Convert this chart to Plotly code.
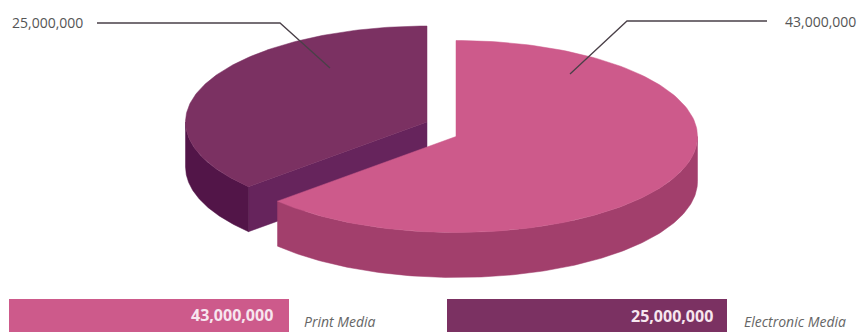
import numpy as np
import plotly.graph_objects as go

# Media spend split
categories = ["Print Media", "Electronic Media"]
values = [43000000, 25000000]
value_labels = ["43,000,000", "25,000,000"]

TOP_COLORS = ["#CD5A8B", "#7B3162"]
OUTER_COLORS = ["#A23F6C", "#521548"]
CUT_COLORS = [None, "#66245C"]

# Disc geometry in pixels: each slice has its own centre because the slices are pulled apart
CENTRES = [(456.0, 136.5), (427.0, 122.0)]
RX, RY, DEPTH = 241.5, 96.0, 45.0

share = values[0] / sum(values)
split = 2 * np.pi * share  # clockwise from twelve o'clock


def rim(cx, cy, start, end, n=160):
    t = np.linspace(start, end, n)
    return cx + RX * np.sin(t), cy - RY * np.cos(t)


def polygon(fig, xs, ys, color):
    fig.add_trace(go.Scatter(
        x=xs, y=ys, mode="lines", fill="toself", fillcolor=color,
        line=dict(color=color, width=0.5), hoverinfo="skip", showlegend=False,
    ))


def wall(fig, cx, cy, start, end, color):
    x, y = rim(cx, cy, start, end)
    xs = np.concatenate([x, x[::-1]])
    ys = np.concatenate([y, (y + DEPTH)[::-1]])
    polygon(fig, list(xs) + [xs[0]], list(ys) + [ys[0]], color)


fig = go.Figure()

# Electronic slice sits behind: cut face, outer wall, then top
cx, cy = CENTRES[1]
ex, ey = rim(cx, cy, split, split, 1)
polygon(fig,
        [cx, ex[0], ex[0], cx, cx],
        [cy, ey[0], ey[0] + DEPTH, cy + DEPTH, cy],
        CUT_COLORS[1])
wall(fig, cx, cy, split, 1.5 * np.pi, OUTER_COLORS[1])
x, y = rim(cx, cy, split, 2 * np.pi)
polygon(fig, [cx] + list(x) + [cx], [cy] + list(y) + [cy], TOP_COLORS[1])

# Print slice in front: only the lower rim of the wall is visible
cx, cy = CENTRES[0]
wall(fig, cx, cy, 0.5 * np.pi, split, OUTER_COLORS[0])
x, y = rim(cx, cy, 0, split)
polygon(fig, [cx] + list(x) + [cx], [cy] + list(y) + [cy], TOP_COLORS[0])

# Leader lines from the slices to their callouts
leaders = [
    ([767, 627, 570], [21, 21, 74]),
    ([97, 280, 330], [23, 23, 68]),
]
for lx, ly in leaders:
    fig.add_trace(go.Scatter(
        x=lx, y=ly, mode="lines", line=dict(color="#4A4048", width=1.3),
        hoverinfo="skip", showlegend=False,
    ))

FONT = "Open Sans"
annotations = [
    dict(x=858, y=21, text=value_labels[0], xanchor="right", font=dict(size=14, color="#555555", family=FONT)),
    dict(x=10, y=22, text=value_labels[1], xanchor="left", font=dict(size=14, color="#555555", family=FONT)),
]

# Key strips along the bottom edge
strips = [(9, 289), (447, 727)]
value_right = [275, 715]
name_left = [302, 742]
value_y = [315, 316]
name_y = [321, 321]
shapes = []
for i, (x0, x1) in enumerate(strips):
    shapes.append(dict(type="rect", xref="x", yref="y", x0=x0, x1=x1, y0=299, y1=333,
                       fillcolor=TOP_COLORS[i], line=dict(width=0), layer="below"))
    annotations.append(dict(x=value_right[i], y=value_y[i], text=f"<b>{value_labels[i]}</b>", xanchor="right",
                            font=dict(size=16, color="#F7E6EF", family=FONT)))
    annotations.append(dict(x=name_left[i], y=name_y[i], text=f"<i>{categories[i]}</i>", xanchor="left",
                            font=dict(size=14, color="#666666", family=FONT)))
for a in annotations:
    a.update(xref="x", yref="y", yanchor="middle", showarrow=False)

fig.update_layout(
    width=860, height=332,
    margin=dict(l=0, r=0, t=0, b=0),
    paper_bgcolor="white", plot_bgcolor="white",
    xaxis=dict(range=[0, 860], visible=False, fixedrange=True),
    yaxis=dict(range=[332, 0], visible=False, fixedrange=True),
    shapes=shapes, annotations=annotations,
    showlegend=False,
)
fig.write_html("out.html", config=dict(displayModeBar=False))
